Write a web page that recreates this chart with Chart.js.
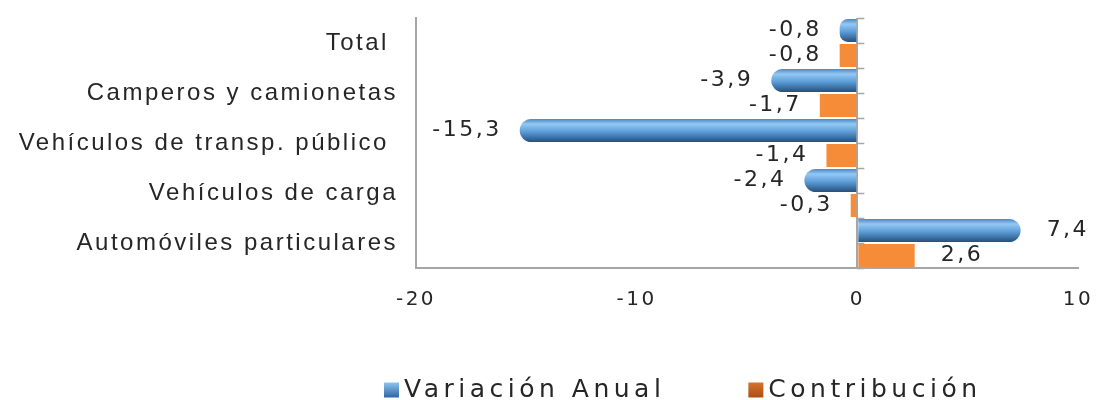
<!DOCTYPE html>
<html>
<head>
<meta charset="utf-8">
<script src="https://cdn.jsdelivr.net/npm/chart.js@4/dist/chart.umd.min.js"></script>
<style>
  html, body { margin: 0; background: #fff; }
  #wrap { width: 1099px; height: 400px; }
</style>
</head>
<body>
<div id="wrap"><canvas id="chart"></canvas></div>
<script>
const categories = ['Total ', 'Camperos y camionetas', 'Vehículos de transp. público ', 'Vehículos de carga', 'Automóviles particulares'];
const variacionAnual = [-0.8, -3.9, -15.3, -2.4, 7.4];
const contribucion = [-0.8, -1.7, -1.4, -0.3, 2.6];
const xTicks = [-20, -10, 0, 10];
const seriesNames = ['Variación Anual', 'Contribución'];

const ORANGE = '#f68c38';
const TEXT = '#262626';
const AXIS = '#a6a6a6';
const BAR_PCT = 0.92;

// vertical gradient per blue bar, so it looks like a cylinder
function blueFill(c) {
  const chart = c.chart;
  const y = chart.scales.y;
  if (!y || c.type !== 'data' || !chart.chartArea) return '#5b9bd5';
  const cat = y.getPixelForValue(1) - y.getPixelForValue(0);
  const half = cat / 4 * BAR_PCT;
  const cy = y.getPixelForValue(c.dataIndex) - cat / 4;
  const g = chart.ctx.createLinearGradient(0, cy - half, 0, cy + half);
  g.addColorStop(0, '#4c87c4');
  g.addColorStop(0.22, '#93c9f4');
  g.addColorStop(0.55, '#5d9dd8');
  g.addColorStop(1, '#24507c');
  return g;
}

function fmt(v) { return v.toFixed(1).replace('.', ','); }

// ctx.letterSpacing widens the text a bit like the original
const spacing = {
  id: 'spacing',
  beforeLayout(chart) { chart.ctx.letterSpacing = '2.5px'; },
  beforeDraw(chart) { chart.ctx.letterSpacing = '2.5px'; }
};

// tick marks on the zero line (category axis crosses at 0)
const zeroTicks = {
  id: 'zeroTicks',
  afterDraw(chart) {
    const { ctx, scales: { x, y } } = chart;
    const x0 = x.getPixelForValue(0);
    ctx.save();
    ctx.strokeStyle = AXIS;
    ctx.lineWidth = 1.5;
    for (let i = -0.5; i <= categories.length - 0.5; i += 0.5) {
      const py = Math.round(y.getPixelForValue(i)) + 0.5;
      ctx.beginPath();
      ctx.moveTo(x0, py);
      ctx.lineTo(x0 + 7, py);
      ctx.stroke();
    }
    ctx.restore();
  }
};

const valueLabels = {
  id: 'valueLabels',
  afterDatasetsDraw(chart) {
    const ctx = chart.ctx;
    ctx.save();
    ctx.font = '22px "DejaVu Sans"';
    ctx.letterSpacing = '2.5px';
    ctx.fillStyle = TEXT;
    ctx.textBaseline = 'middle';
    chart.data.datasets.forEach((ds, di) => {
      chart.getDatasetMeta(di).data.forEach((el, i) => {
        const v = ds.data[i];
        if (v < 0) { ctx.textAlign = 'right'; ctx.fillText(fmt(v), el.x - 18, el.y); }
        else { ctx.textAlign = 'left'; ctx.fillText(fmt(v), el.x + 26, el.y); }
      });
    });
    ctx.restore();
  }
};

const bottomLegend = {
  id: 'bottomLegend',
  afterDraw(chart) {
    const ctx = chart.ctx;
    ctx.save();
    ctx.font = '25px "DejaVu Sans"';
    ctx.letterSpacing = '4.5px';
    ctx.textBaseline = 'middle';
    ctx.textAlign = 'left';
    const cy = 390, box = 15;
    let x = 384;
    seriesNames.forEach((name, i) => {
      const g = ctx.createLinearGradient(0, cy - box / 2, 0, cy + box / 2);
      if (i === 0) { g.addColorStop(0, '#8cc4f0'); g.addColorStop(1, '#2f67a3'); }
      else { g.addColorStop(0, '#d9722c'); g.addColorStop(1, '#a84f16'); }
      ctx.fillStyle = g;
      ctx.fillRect(x, cy - box / 2, box, box);
      ctx.fillStyle = TEXT;
      ctx.fillText(name, x + box + 5, cy);
      x += box + 5 + ctx.measureText(name).width + 83;
    });
    ctx.restore();
  }
};

new Chart(document.getElementById('chart').getContext('2d'), {
  type: 'bar',
  data: {
    labels: categories,
    datasets: [
      { label: seriesNames[0], data: variacionAnual, backgroundColor: blueFill, borderRadius: 12, borderSkipped: 'start',
        categoryPercentage: 1, barPercentage: BAR_PCT },
      { label: seriesNames[1], data: contribucion, backgroundColor: ORANGE, borderRadius: 0,
        categoryPercentage: 1, barPercentage: BAR_PCT },
    ]
  },
  options: {
    indexAxis: 'y',
    animation: false,
    responsive: true,
    maintainAspectRatio: false,
    devicePixelRatio: 1,
    layout: { padding: { top: 18, right: 21, bottom: 0, left: 0 } },
    scales: {
      x: {
        min: -20, max: 10,
        afterBuildTicks: (s) => { s.ticks = xTicks.map(v => ({ value: v })); },
        afterFit: (s) => { s.height = 132; s.paddingLeft = 0; s.paddingRight = 0; },
        grid: { color: (c) => (c.tick && c.tick.value === 0 ? AXIS : 'transparent'), lineWidth: 2, drawTicks: false },
        border: { color: AXIS, width: 2 },
        ticks: { padding: 20, color: TEXT, font: { family: 'DejaVu Sans', size: 20 }, callback: (v) => String(v) },
      },
      y: {
        afterFit: (s) => { s.width = 416; s.paddingTop = 0; s.paddingBottom = 0; },
        grid: { display: false },
        border: { color: AXIS, width: 2 },
        ticks: { padding: 10, color: TEXT, font: { family: 'Liberation Sans', size: 24 } },
      },
    },
    plugins: { legend: { display: false }, tooltip: { enabled: false } },
  },
  plugins: [spacing, zeroTicks, valueLabels, bottomLegend]
});
</script>
</body>
</html>
